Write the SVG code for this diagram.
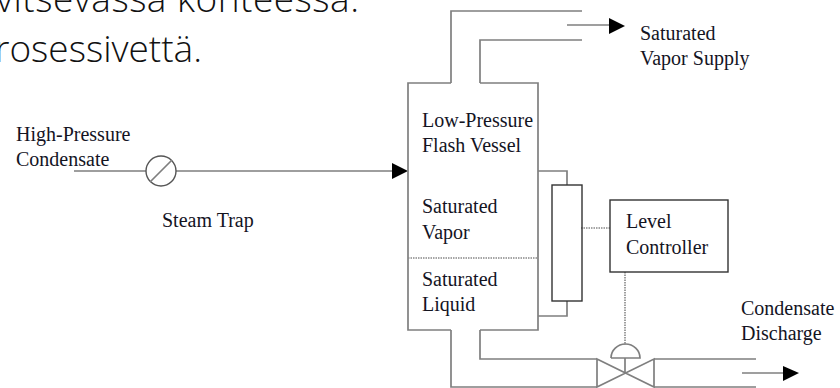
<svg xmlns="http://www.w3.org/2000/svg" width="840" height="388" viewBox="0 0 840 388">
<style>
.bg{fill:#fff}
.p{fill:none;stroke:#7f7f7f;stroke-width:1.7}
.b{fill:none;stroke:#333;stroke-width:1.4}
.d{fill:none;stroke:#888;stroke-width:1.6;stroke-dasharray:1.5 1}
.h{fill:#000}
.t{font-family:"Liberation Serif",serif;font-size:20px;fill:#14141f;letter-spacing:0}
.top{font-family:"Open Sans",sans-serif;font-weight:300;font-size:37px;fill:#111}
</style>
<rect class="bg" width="840" height="388"/>
<g id="heading">
<text class="top" x="-4" y="12" letter-spacing="0.5">vitsevassa konteessa.</text>
<text class="top" x="-5" y="62">rosessivettä.</text>
</g>
<g id="connectors">
<path class="p" d="M74 171H146M176 171H393"/>
<path class="h" d="M392 163L408 171L392 179Z"/>
<path class="p" d="M451 83V11H582M480 83V40H582"/>
<path class="p" d="M567 25H610"/>
<path class="h" d="M609 18L625 26L609 34Z"/>
<path class="p" d="M538 171H567V185M567 301V316H538"/>
<path class="p" d="M480 330V359H597M451 330V387H597M654 359H756M654 387H756"/>
<path class="p" d="M742 373H784"/>
<path class="h" d="M783 366L799 373L783 381Z"/>
<path class="d" d="M581 228H611M625 272V345"/>
</g>
<g id="flash-vessel">
<path class="p" d="M451 83H408V330H451M480 330H538V83H480"/>
<path class="d" d="M408 258H538"/>
<text class="t" x="422" y="127">Low-Pressure</text>
<text class="t" x="422" y="152">Flash Vessel</text>
<text class="t" x="422" y="213">Saturated</text>
<text class="t" x="422" y="239">Vapor</text>
<text class="t" x="422" y="286">Saturated</text>
<text class="t" x="422" y="311">Liquid</text>
</g>
<g id="steam-trap">
<circle class="b" cx="161" cy="171" r="15" style="stroke:#555"/>
<path class="p" d="M150 182L172 160"/>
<text class="t" x="162" y="227">Steam Trap</text>
</g>
<g id="inlet-label">
<text class="t" x="16" y="141">High-Pressure</text>
<text class="t" x="16" y="166">Condensate</text>
</g>
<g id="supply-label">
<text class="t" x="640" y="40">Saturated</text>
<text class="t" x="640" y="65">Vapor Supply</text>
</g>
<g id="level-gauge">
<rect class="b" x="552" y="185" width="30" height="116"/>
</g>
<g id="level-controller">
<rect class="b" x="610" y="200" width="118" height="72"/>
<text class="t" x="626" y="228">Level</text>
<text class="t" x="626" y="254">Controller</text>
</g>
<g id="control-valve">
<path class="p" d="M597 359L654 387V359L597 387Z"/>
<path class="p" d="M625 358V373M611 358A14.500 14 0 0 1 640 358H611"/>
</g>
<g id="discharge-label">
<text class="t" x="741" y="315">Condensate</text>
<text class="t" x="741" y="340">Discharge</text>
</g>
</svg>
